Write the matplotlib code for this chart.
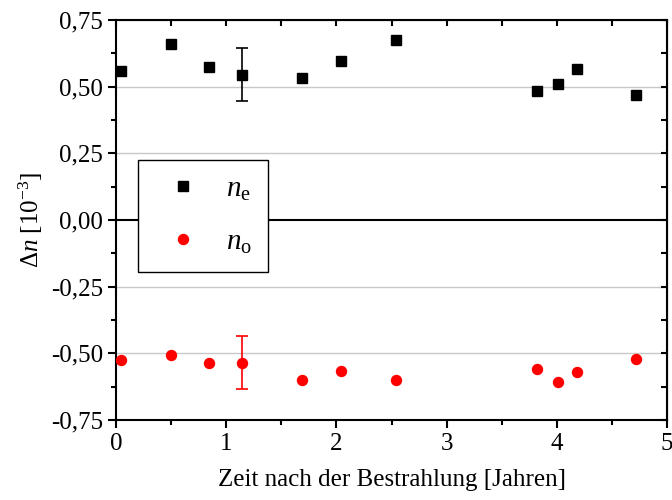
import numpy as np
import matplotlib
matplotlib.use('Agg')
import matplotlib.pyplot as plt
from matplotlib.ticker import MultipleLocator, FuncFormatter

plt.rcParams['font.family'] = ['Liberation Serif', 'DejaVu Serif']
plt.rcParams['mathtext.fontset'] = 'custom'
plt.rcParams['mathtext.rm'] = 'Liberation Serif'
plt.rcParams['mathtext.it'] = 'Liberation Serif:italic'

# Zeit nach der Bestrahlung [Jahre]
t_e = [0.05, 0.50, 0.84, 1.14, 1.69, 2.04, 2.54, 3.82, 4.01, 4.18, 4.72]
dn_e = [0.558, 0.659, 0.573, 0.545, 0.533, 0.596, 0.675, 0.483, 0.511, 0.565, 0.469]
err_e = [0, 0, 0, 0.10, 0, 0, 0, 0, 0, 0, 0]

t_o = [0.05, 0.50, 0.84, 1.14, 1.69, 2.04, 2.54, 3.82, 4.01, 4.18, 4.72]
dn_o = [-0.524, -0.505, -0.535, -0.535, -0.599, -0.566, -0.601, -0.560, -0.607, -0.569, -0.522]
err_o = [0, 0, 0, 0.10, 0, 0, 0, 0, 0, 0, 0]

fig = plt.figure(figsize=(6.72, 5.0), dpi=100)
ax = fig.add_axes([0.1726, 0.16, 0.82, 0.80])

# Gitterlinien und Nulllinie
for yv in [-0.5, -0.25, 0.25, 0.5]:
    ax.axhline(yv, color='#c8c8c8', lw=1.0, zorder=0)
ax.axhline(0, color='black', lw=1.5, zorder=1)

ax.plot(t_e, dn_e, 's', color='black', ms=6.8, zorder=3, label=r'$\mathit{n}_{\mathrm{e}}$')
ax.plot(t_o, dn_o, 'o', color='red', ms=7.2, zorder=3, label=r'$\mathit{n}_{\mathrm{o}}$')

# Fehlerbalken nur fuer den Referenzpunkt
te, de, ee = np.array(t_e), np.array(dn_e), np.array(err_e)
to, do, eo = np.array(t_o), np.array(dn_o), np.array(err_o)
me, mo = ee > 0, eo > 0
ax.errorbar(te[me], de[me], yerr=ee[me], fmt='none', ecolor='black', elinewidth=1.2, capsize=4, capthick=1.2, zorder=2)
ax.errorbar(to[mo], do[mo], yerr=eo[mo], fmt='none', ecolor='red', elinewidth=1.2, capsize=4, capthick=1.2, zorder=2)

ax.set_xlim(0, 5)
ax.set_ylim(-0.75, 0.75)
ax.xaxis.set_major_locator(MultipleLocator(1))
ax.xaxis.set_minor_locator(MultipleLocator(0.5))
ax.yaxis.set_major_locator(MultipleLocator(0.25))
ax.yaxis.set_minor_locator(MultipleLocator(0.125))
ax.yaxis.set_major_formatter(FuncFormatter(lambda v, p: f'{v:.2f}'.replace('.', ',')))

for s in ax.spines.values():
    s.set_linewidth(1.5)
ax.tick_params(which='both', direction='out', width=1.5, labelsize=18, colors='black')
ax.tick_params(which='major', length=6)
ax.tick_params(which='minor', length=3.5)

# Ticks oben und rechts nach innen
ax2 = ax.secondary_xaxis('top')
ax2.set_xticks(np.arange(0, 5.01, 0.5))
ax2.tick_params(direction='in', length=4, width=1.5, labeltop=False)
ax3 = ax.secondary_yaxis('right')
ax3.set_yticks(np.arange(-0.75, 0.76, 0.125))
ax3.tick_params(direction='in', length=4, width=1.5, labelright=False)

ax.set_xlabel('Zeit nach der Bestrahlung [Jahren]', fontsize=18, labelpad=10)
ax.set_ylabel(r'$\Delta\mathit{n}$ [10$^{-3}$]', fontsize=18, labelpad=4)

leg = ax.legend(loc='upper left', bbox_to_anchor=(0.04, 0.65), fontsize=21,
                frameon=True, fancybox=False, edgecolor='black', framealpha=1,
                handletextpad=0.45, labelspacing=0.9, borderpad=0.55,
                borderaxespad=0, handlelength=2.0)
leg.get_frame().set_linewidth(1.0)
leg.set_zorder(5)

fig.savefig('out.png', dpi=100)
